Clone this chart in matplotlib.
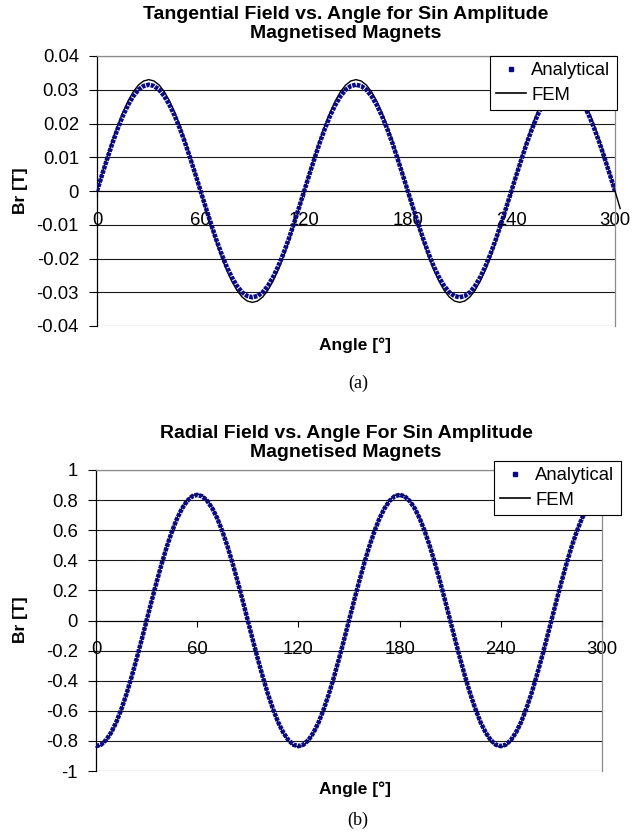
import matplotlib
matplotlib.use("Agg")
import matplotlib.pyplot as plt
from matplotlib.lines import Line2D

plt.rcParams['font.family'] = ['Liberation Sans', 'DejaVu Sans']
plt.rcParams['lines.scale_dashes'] = False

# ---------------- data ----------------
top_angle = list(range(0, 301, 3))
top_analytical = [
    0.0000, 0.0049, 0.0097, 0.0143, 0.0185, 0.0223, 0.0255, 0.0281, 0.0300, 0.0311,
    0.0315, 0.0311, 0.0300, 0.0281, 0.0255, 0.0223, 0.0185, 0.0143, 0.0097, 0.0049,
    0.0000, -0.0049, -0.0097, -0.0143, -0.0185, -0.0223, -0.0255, -0.0281, -0.0300, -0.0311,
    -0.0315, -0.0311, -0.0300, -0.0281, -0.0255, -0.0223, -0.0185, -0.0143, -0.0097, -0.0049,
    0.0000, 0.0049, 0.0097, 0.0143, 0.0185, 0.0223, 0.0255, 0.0281, 0.0300, 0.0311,
    0.0315, 0.0311, 0.0300, 0.0281, 0.0255, 0.0223, 0.0185, 0.0143, 0.0097, 0.0049,
    0.0000, -0.0049, -0.0097, -0.0143, -0.0185, -0.0223, -0.0255, -0.0281, -0.0300, -0.0311,
    -0.0315, -0.0311, -0.0300, -0.0281, -0.0255, -0.0223, -0.0185, -0.0143, -0.0097, -0.0049,
    0.0000, 0.0049, 0.0097, 0.0143, 0.0185, 0.0223, 0.0255, 0.0281, 0.0300, 0.0311,
    0.0315, 0.0311, 0.0300, 0.0281, 0.0255, 0.0223, 0.0185, 0.0143, 0.0097, 0.0049,
    0.0000,
]
top_fem_angle = list(range(0, 304, 3))
top_fem = [
    0.0000, 0.0052, 0.0102, 0.0150, 0.0194, 0.0233, 0.0267, 0.0294, 0.0314, 0.0326,
    0.0330, 0.0326, 0.0314, 0.0294, 0.0267, 0.0233, 0.0194, 0.0150, 0.0102, 0.0052,
    0.0000, -0.0052, -0.0102, -0.0150, -0.0194, -0.0233, -0.0267, -0.0294, -0.0314, -0.0326,
    -0.0330, -0.0326, -0.0314, -0.0294, -0.0267, -0.0233, -0.0194, -0.0150, -0.0102, -0.0052,
    0.0000, 0.0052, 0.0102, 0.0150, 0.0194, 0.0233, 0.0267, 0.0294, 0.0314, 0.0326,
    0.0330, 0.0326, 0.0314, 0.0294, 0.0267, 0.0233, 0.0194, 0.0150, 0.0102, 0.0052,
    0.0000, -0.0052, -0.0102, -0.0150, -0.0194, -0.0233, -0.0267, -0.0294, -0.0314, -0.0326,
    -0.0330, -0.0326, -0.0314, -0.0294, -0.0267, -0.0233, -0.0194, -0.0150, -0.0102, -0.0052,
    0.0000, 0.0052, 0.0102, 0.0150, 0.0194, 0.0233, 0.0267, 0.0294, 0.0314, 0.0326,
    0.0330, 0.0326, 0.0314, 0.0294, 0.0267, 0.0233, 0.0194, 0.0150, 0.0102, 0.0052,
    0.0000, -0.0052,
]

bot_angle = list(range(0, 301, 3))
bot_analytical = [
    -0.835, -0.825, -0.794, -0.744, -0.676, -0.590, -0.491, -0.379, -0.258, -0.131,
    0.000, 0.131, 0.258, 0.379, 0.491, 0.590, 0.676, 0.744, 0.794, 0.825,
    0.835, 0.825, 0.794, 0.744, 0.676, 0.590, 0.491, 0.379, 0.258, 0.131,
    0.000, -0.131, -0.258, -0.379, -0.491, -0.590, -0.676, -0.744, -0.794, -0.825,
    -0.835, -0.825, -0.794, -0.744, -0.676, -0.590, -0.491, -0.379, -0.258, -0.131,
    0.000, 0.131, 0.258, 0.379, 0.491, 0.590, 0.676, 0.744, 0.794, 0.825,
    0.835, 0.825, 0.794, 0.744, 0.676, 0.590, 0.491, 0.379, 0.258, 0.131,
    0.000, -0.131, -0.258, -0.379, -0.491, -0.590, -0.676, -0.744, -0.794, -0.825,
    -0.835, -0.825, -0.794, -0.744, -0.676, -0.590, -0.491, -0.379, -0.258, -0.131,
    0.000, 0.131, 0.258, 0.379, 0.491, 0.590, 0.676, 0.744, 0.794, 0.825,
    0.835,
]
bot_fem = [
    -0.840, -0.830, -0.799, -0.748, -0.680, -0.594, -0.494, -0.381, -0.260, -0.131,
    0.000, 0.131, 0.260, 0.381, 0.494, 0.594, 0.680, 0.748, 0.799, 0.830,
    0.840, 0.830, 0.799, 0.748, 0.680, 0.594, 0.494, 0.381, 0.260, 0.131,
    0.000, -0.131, -0.260, -0.381, -0.494, -0.594, -0.680, -0.748, -0.799, -0.830,
    -0.840, -0.830, -0.799, -0.748, -0.680, -0.594, -0.494, -0.381, -0.260, -0.131,
    0.000, 0.131, 0.260, 0.381, 0.494, 0.594, 0.680, 0.748, 0.799, 0.830,
    0.840, 0.830, 0.799, 0.748, 0.680, 0.594, 0.494, 0.381, 0.260, 0.131,
    0.000, -0.131, -0.260, -0.381, -0.494, -0.594, -0.680, -0.748, -0.799, -0.830,
    -0.840, -0.830, -0.799, -0.748, -0.680, -0.594, -0.494, -0.381, -0.260, -0.131,
    0.000, 0.131, 0.260, 0.381, 0.494, 0.594, 0.680, 0.748, 0.799, 0.830,
    0.840,
]

x_ticks = [0, 60, 120, 180, 240, 300]
x_tick_labels = ['0', '60', '120', '180', '240', '300']
top_yticks = [-0.04, -0.03, -0.02, -0.01, 0.0, 0.01, 0.02, 0.03, 0.04]
top_ytick_labels = ['-0.04', '-0.03', '-0.02', '-0.01', '0', '0.01', '0.02', '0.03', '0.04']
bot_yticks = [-1.0, -0.8, -0.6, -0.4, -0.2, 0.0, 0.2, 0.4, 0.6, 0.8, 1.0]
bot_ytick_labels = ['-1', '-0.8', '-0.6', '-0.4', '-0.2', '0', '0.2', '0.4', '0.6', '0.8', '1']

top_title = "Tangential Field vs. Angle for Sin Amplitude\nMagnetised Magnets"
bot_title = "Radial Field vs. Angle For Sin Amplitude\nMagnetised Magnets"

# ---------------- figure ----------------
W, H = 632, 835
fig = plt.figure(figsize=(W / 100, H / 100), dpi=100)
ax1 = fig.add_axes([97 / W, 1 - 326 / H, 518 / W, 270 / H])
ax2 = fig.add_axes([96 / W, 1 - 771 / H, 506 / W, 301 / H])

NAVY = '#0a0a85'
FS = 13.3


def style(ax, yticks, ylabels):
    ax.set_xlim(0, 300)
    ax.set_ylim(yticks[0], yticks[-1])
    ax.set_xticks(x_ticks)
    ax.set_xticklabels(x_tick_labels)
    ax.set_yticks(yticks)
    ax.set_yticklabels(ylabels)
    ax.spines['bottom'].set_position(('data', 0))
    ax.spines['bottom'].set_color('black')
    ax.spines['bottom'].set_linewidth(0.8)
    ax.spines['left'].set_color('black')
    ax.spines['left'].set_linewidth(0.9)
    for s in ('top', 'right'):
        ax.spines[s].set_color('#8c8c8c')
        ax.spines[s].set_linewidth(0.9)
    ax.yaxis.grid(True, color='#1a1a1a', lw=0.8)
    ax.set_axisbelow(True)
    ax.tick_params(axis='y', direction='out', length=6, width=0.8, pad=7, labelsize=FS)
    ax.tick_params(axis='x', direction='out', length=4, width=0.8, pad=11, labelsize=FS)


def draw(ax, xa, ya, xf, yf):
    ax.plot(xf, yf, color='black', lw=1.0, zorder=3, clip_on=False)
    ax.plot(xa, ya, color=NAVY, lw=3.3, linestyle=(0, (2.6, 0.7)),
            solid_capstyle='butt', dash_capstyle='butt', zorder=4)


draw(ax1, top_angle, top_analytical, top_fem_angle, top_fem)
draw(ax2, bot_angle, bot_analytical, bot_angle, bot_fem)
style(ax1, top_yticks, top_ytick_labels)
style(ax2, bot_yticks, bot_ytick_labels)

handles = [Line2D([], [], marker='s', ms=3.4, color=NAVY, linestyle='None'),
           Line2D([], [], color='black', lw=1.2)]


def add_legend(ax, x_px, y_px):
    leg = ax.legend(handles, ['Analytical', 'FEM'], loc='upper right',
                    bbox_to_anchor=(x_px / W, 1 - y_px / H),
                    bbox_transform=fig.transFigure, fontsize=FS,
                    frameon=True, fancybox=False, framealpha=1,
                    edgecolor='black', borderpad=0.35, labelspacing=0.4,
                    handlelength=1.6, handletextpad=0.3, borderaxespad=0)
    leg.get_frame().set_linewidth(0.8)
    leg.set_zorder(10)


add_legend(ax1, 617, 56)
add_legend(ax2, 621, 461)

# titles
fig.text(346 / W, 1 - 24 / H, top_title, ha='center', va='center',
         fontsize=14, fontweight='bold', linespacing=1.15)
fig.text(346 / W, 1 - 443 / H, bot_title, ha='center', va='center',
         fontsize=14, fontweight='bold', linespacing=1.15)

# axis labels
for yc in (191, 620):
    fig.text(20 / W, 1 - yc / H, 'Br [T]', rotation=90, ha='center', va='center',
             fontsize=12.5, fontweight='bold')
fig.text(355 / W, 1 - 345 / H, 'Angle [°]', ha='center', va='center',
         fontsize=12.5, fontweight='bold')
fig.text(355 / W, 1 - 789 / H, 'Angle [°]', ha='center', va='center',
         fontsize=12.5, fontweight='bold')
fig.text(358 / W, 1 - 383 / H, '(a)', ha='center', va='center',
         fontsize=13, family=['Liberation Serif', 'DejaVu Serif'])
fig.text(358 / W, 1 - 820 / H, '(b)', ha='center', va='center',
         fontsize=13, family=['Liberation Serif', 'DejaVu Serif'])

fig.savefig('out.png', dpi=100, facecolor='white')
